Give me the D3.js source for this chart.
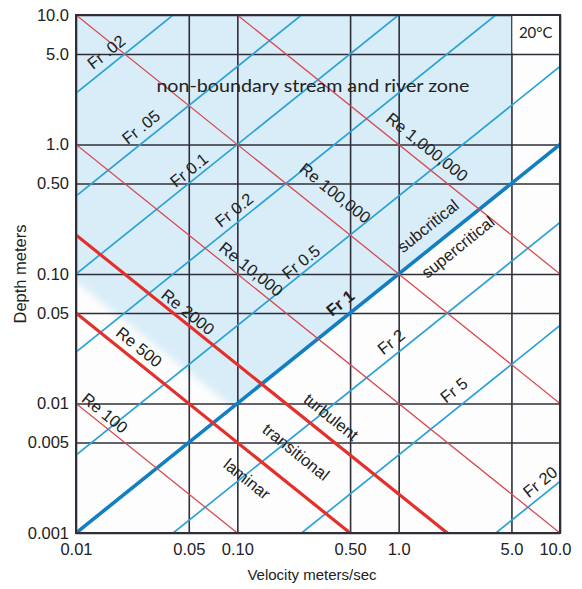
<!DOCTYPE html>
<html>
<head>
<meta charset="utf-8">
<script src="https://cdn.jsdelivr.net/npm/d3@7"></script>
<style>
body { margin: 0; background: #fff; }
svg text { font-family: "Liberation Sans", Arial, sans-serif; fill: #222; }
</style>
</head>
<body>
<div id="chart"></div>
<script>
// axis ticks
const xTicks = [0.01, 0.05, 0.1, 0.5, 1, 5, 10];
const xTickLabels = ["0.01", "0.05", "0.10", "0.50", "1.0", "5.0", "10.0"];
const yTicks = [0.001, 0.005, 0.01, 0.05, 0.1, 0.5, 1, 5, 10];
const yTickLabels = ["0.001", "0.005", "0.01", "0.05", "0.10", "0.50", "1.0", "5.0", "10.0"];

// Froude lines (depth = V / (10 Fr^2) on this sheet)
const froudeNumbers = [0.02, 0.05, 0.1, 0.2, 0.5, 1, 2, 5, 20];
const froudeLabels = ["Fr .02", "Fr .05", "Fr 0.1", "Fr 0.2", "Fr 0.5", "Fr 1", "Fr 2", "Fr 5", "Fr 20"];

// Reynolds lines (depth = Re * nu / V, nu = 1e-6)
const reynoldsNumbers = [100, 500, 2000, 10000, 100000, 1000000];
const reynoldsLabels = ["Re 100", "Re 500", "Re 2000", "Re 10,000", "Re 100,000", "Re 1,000,000"];
const thickReynolds = [500, 2000];

// shaded zone: above Fr 1, left of 5 m/s
const zoneVelocity = [0.01, 5, 5, 0.01];
const zoneDepth = [10, 10, 0.5, 0.001];
// fuzzy white area in lower left
const clearVelocity = [0.006, 0.01, 0.1, 0.4, 0.4, 0.006];
const clearDepth = [0.14, 0.087, 0.0087, 0.0022, 0.0005, 0.0005];

// where the line labels sit (velocity, depth)
const froudeLabelV = [0.0154, 0.0253, 0.0502, 0.0954, 0.248, 0.434, 0.898, 2.2, 7.53];
const froudeLabelD = [5.18, 1.365, 0.635, 0.312, 0.124, 0.0597, 0.0299, 0.0127, 0.00248];
const reynoldsLabelV = [0.0151, 0.0246, 0.0494, 0.1216, 0.404, 1.5];
const reynoldsLabelD = [0.00845, 0.0273, 0.0509, 0.109, 0.422, 0.957];

const zoneNames = ["subcritical", "supercritical", "turbulent", "transitional", "laminar"];
const zoneNameV = [1.52, 2.33, 0.381, 0.231, 0.1148];
const zoneNameD = [0.235, 0.1616, 0.00787, 0.00422, 0.00261];
const zoneNameDir = [-1, -1, 1, 1, 1];

const width = 582;
const height = 589;
const margin = { top: 15, right: 22, bottom: 56, left: 76 };

const svg = d3.select("#chart")
    .append("svg")
    .attr("width", width)
    .attr("height", height);

const x = d3.scaleLog()
    .domain([0.01, 10])
    .range([margin.left, width - margin.right]);

const y = d3.scaleLog()
    .domain([0.001, 10])
    .range([height - margin.bottom, margin.top]);

const plotW = width - margin.left - margin.right;
const plotH = height - margin.top - margin.bottom;

const defs = svg.append("defs");
defs.append("clipPath").attr("id", "plot-clip")
    .append("rect")
    .attr("x", margin.left).attr("y", margin.top)
    .attr("width", plotW).attr("height", plotH);
defs.append("filter").attr("id", "soft")
    .attr("x", "-20%").attr("y", "-20%").attr("width", "140%").attr("height", "140%")
    .append("feGaussianBlur").attr("stdDeviation", 3.5);

const plot = svg.append("g").attr("clip-path", "url(#plot-clip)");

plot.append("rect")
    .attr("x", margin.left).attr("y", margin.top)
    .attr("width", plotW).attr("height", plotH)
    .attr("fill", "#fdfdfd");

const area = d3.line().x(d => x(d[0])).y(d => y(d[1]));

plot.append("path")
    .attr("d", area(zoneVelocity.map((v, i) => [v, zoneDepth[i]])) + "Z")
    .attr("fill", "#d9edf8");

plot.append("path")
    .attr("d", area(clearVelocity.map((v, i) => [v, clearDepth[i]])) + "Z")
    .attr("fill", "#fdfdfd")
    .attr("filter", "url(#soft)");

// grid through the axes
const xAxis = svg.append("g")
    .attr("transform", `translate(0,${height - margin.bottom})`)
    .call(d3.axisBottom(x)
        .tickValues(xTicks)
        .tickFormat((d, i) => xTickLabels[i])
        .tickSizeInner(-plotH)
        .tickSizeOuter(0)
        .tickPadding(10));

const yAxis = svg.append("g")
    .attr("transform", `translate(${margin.left},0)`)
    .call(d3.axisLeft(y)
        .tickValues(yTicks)
        .tickFormat((d, i) => yTickLabels[i])
        .tickSizeInner(-plotW)
        .tickSizeOuter(0)
        .tickPadding(7));

[xAxis, yAxis].forEach(g => {
    g.select(".domain").remove();
    g.selectAll(".tick line").attr("stroke", "#2f2f3a").attr("stroke-width", 1.6);
    g.selectAll(".tick text").attr("font-size", 16.5).attr("fill", "#222")
        .attr("font-family", "'Liberation Sans', Arial, sans-serif");
});
// last velocity label is pulled in a little
xAxis.selectAll(".tick text").filter(d => d === 10).attr("dx", -5);

// white cell for the temperature note
svg.append("rect")
    .attr("x", x(5) + 1).attr("y", y(10) + 1)
    .attr("width", x(10) - x(5) - 2).attr("height", y(5) - y(10) - 2)
    .attr("fill", "#fff");

const lines = svg.append("g").attr("clip-path", "url(#plot-clip)");

const froudeDepth = (fr, v) => v / (10 * fr * fr);
const reynoldsDepth = (re, v) => re * 1e-6 / v;

lines.selectAll(".fr")
    .data(froudeNumbers)
    .enter()
    .append("line")
    .attr("class", "fr")
    .attr("x1", x(0.01)).attr("x2", x(10))
    .attr("y1", d => y(froudeDepth(d, 0.01)))
    .attr("y2", d => y(froudeDepth(d, 10)))
    .attr("stroke", d => d === 1 ? "#127fc2" : "#2aa2d6")
    .attr("stroke-width", d => d === 1 ? 3.6 : 1.7);

lines.selectAll(".re")
    .data(reynoldsNumbers)
    .enter()
    .append("line")
    .attr("class", "re")
    .attr("x1", x(0.01)).attr("x2", x(10))
    .attr("y1", d => y(reynoldsDepth(d, 0.01)))
    .attr("y2", d => y(reynoldsDepth(d, 10)))
    .attr("stroke", d => thickReynolds.includes(d) ? "#e3302b" : "#d64a52")
    .attr("stroke-width", d => thickReynolds.includes(d) ? 3.2 : 1.3);

svg.append("rect")
    .attr("x", margin.left).attr("y", margin.top)
    .attr("width", plotW).attr("height", plotH)
    .attr("fill", "none")
    .attr("stroke", "#2f2f3a")
    .attr("stroke-width", 2);

// slope of a line on screen
const upAngle = Math.atan2(y(10) - y(1), x(10) - x(1)) * 180 / Math.PI;

const labels = svg.append("g").attr("font-size", 16.5);

froudeLabels.forEach((t, i) => {
    const px = x(froudeLabelV[i]), py = y(froudeLabelD[i]);
    labels.append("text")
        .attr("transform", `translate(${px},${py}) rotate(${upAngle})`)
        .attr("text-anchor", "middle")
        .attr("dy", "0.35em")
        .attr("font-weight", froudeNumbers[i] === 1 ? "bold" : null)
        .text(t);
});

reynoldsLabels.forEach((t, i) => {
    const px = x(reynoldsLabelV[i]), py = y(reynoldsLabelD[i]);
    labels.append("text")
        .attr("transform", `translate(${px},${py}) rotate(${-upAngle})`)
        .attr("text-anchor", "middle")
        .attr("dy", "0.35em")
        .text(t);
});

zoneNames.forEach((t, i) => {
    const px = x(zoneNameV[i]), py = y(zoneNameD[i]);
    labels.append("text")
        .attr("transform", `translate(${px},${py}) rotate(${zoneNameDir[i] * -upAngle})`)
        .attr("text-anchor", "middle")
        .attr("dy", "0.35em")
        .text(t);
});

svg.append("text")
    .attr("x", x(0.294)).attr("y", y(2.83))
    .attr("text-anchor", "middle")
    .attr("dy", "0.35em")
    .attr("font-size", 17)
    .attr("textLength", 313)
    .attr("lengthAdjust", "spacingAndGlyphs")
    .style("font-family", "Lato, 'DejaVu Sans', sans-serif")
    .attr("fill", "#333")
    .text("non-boundary stream and river zone");

svg.append("text")
    .attr("x", (x(5) + x(10)) / 2).attr("y", (y(10) + y(5)) / 2 - 2)
    .attr("text-anchor", "middle")
    .attr("dy", "0.35em")
    .attr("font-size", 15)
    .style("font-family", "Lato, 'DejaVu Sans', sans-serif")
    .attr("fill", "#333")
    .text("20°C");

// axis titles
svg.append("text")
    .attr("x", 312)
    .attr("y", height - 9)
    .attr("text-anchor", "middle")
    .attr("font-size", 15)
    .text("Velocity meters/sec");

svg.append("text")
    .attr("transform", `translate(26,${y(0.1)}) rotate(-90)`)
    .attr("text-anchor", "middle")
    .attr("font-size", 16.5)
    .text("Depth meters");
</script>
</body>
</html>
